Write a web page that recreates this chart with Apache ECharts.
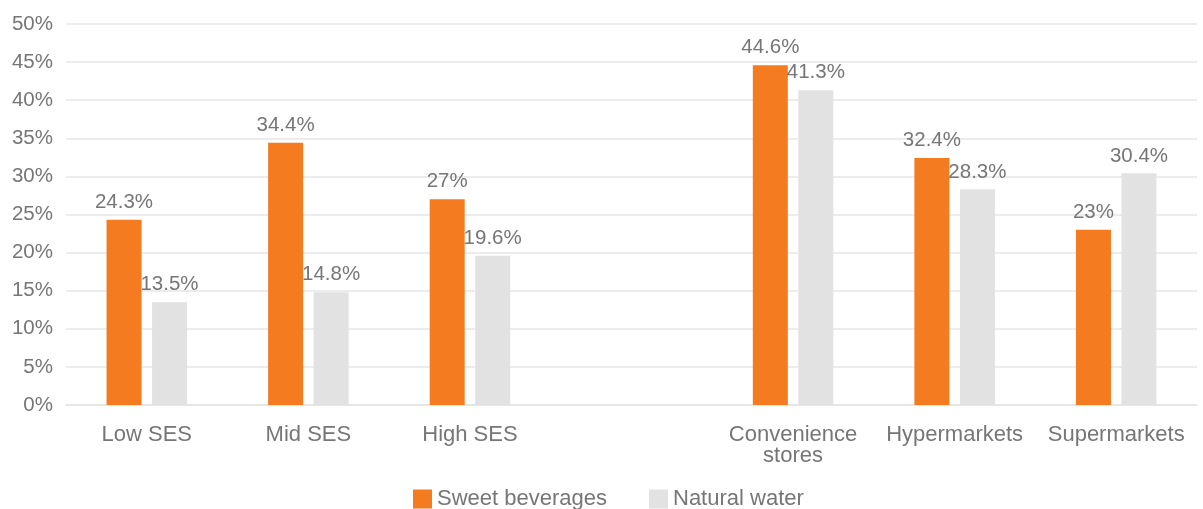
<!DOCTYPE html>
<html>
<head>
<meta charset="utf-8">
<script src="https://cdn.jsdelivr.net/npm/echarts@6/dist/echarts.min.js"></script>
<style>
html,body{margin:0;padding:0;background:#fff;}
#chart{width:1203px;height:509px;}
</style>
</head>
<body>
<div id="chart"></div>
<script>
const categories = ['Low SES', 'Mid SES', 'High SES', '', 'Convenience\nstores', 'Hypermarkets', 'Supermarkets'];
const sweetBeverages = [24.3, 34.4, 27, null, 44.6, 32.4, 23];
const naturalWater = [13.5, 14.8, 19.6, null, 41.3, 28.3, 30.4];
const yTicks = { min: 0, max: 50, interval: 5 };

const textColor = '#767676';
const fontFamily = 'Liberation Sans, Arial, sans-serif';

const chart = echarts.init(document.getElementById('chart'));
const labelCfg = {
  show: true,
  position: 'top',
  distance: 7,
  color: textColor,
  fontSize: 20.5,
  fontFamily: fontFamily,
  formatter: p => p.value == null ? '' : p.value + '%'
};
chart.setOption({
  animation: false,
  grid: { left: 66, right: 6, top: 24, bottom: 104, containLabel: false },
  legend: {
    bottom: -6,
    left: 408,
    itemWidth: 19,
    itemHeight: 19,
    itemGap: 42,
    icon: 'rect',
    textStyle: { color: textColor, fontSize: 22, fontFamily: fontFamily },
    data: ['Sweet beverages', 'Natural water']
  },
  xAxis: {
    type: 'category',
    data: categories,
    axisLine: { lineStyle: { color: '#e3e3e3', width: 1.5 } },
    axisTick: { show: false },
    axisLabel: { color: textColor, fontSize: 22, fontFamily: fontFamily, margin: 19, lineHeight: 21, interval: 0 }
  },
  yAxis: {
    type: 'value',
    min: yTicks.min,
    max: yTicks.max,
    interval: yTicks.interval,
    axisLine: { show: false },
    axisTick: { show: false },
    splitLine: { lineStyle: { color: '#e6e6e6', width: 1.5 } },
    axisLabel: { color: textColor, fontSize: 20.5, fontFamily: fontFamily, margin: 13, formatter: v => v + '%' }
  },
  series: [
    {
      name: 'Sweet beverages',
      type: 'bar',
      data: sweetBeverages,
      barWidth: 35,
      barGap: '30%',
      itemStyle: { color: '#F47B20' },
      label: labelCfg
    },
    {
      name: 'Natural water',
      type: 'bar',
      data: naturalWater,
      barWidth: 35,
      barGap: '30%',
      itemStyle: { color: '#E2E2E2' },
      label: labelCfg
    }
  ]
});
</script>
</body>
</html>
